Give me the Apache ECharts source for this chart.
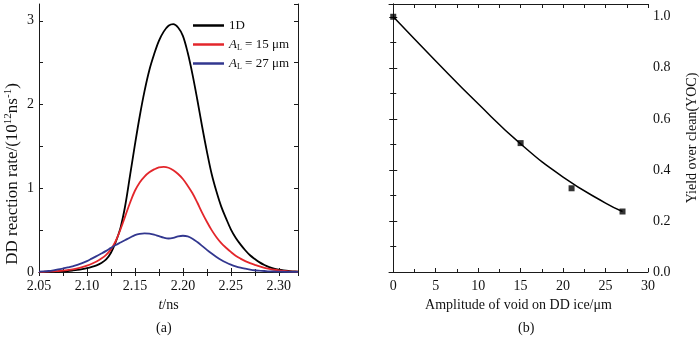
<!DOCTYPE html>
<html>
<head>
<meta charset="utf-8">
<script src="https://cdn.jsdelivr.net/npm/echarts@6/dist/echarts.min.js"></script>
<style>html,body{margin:0;padding:0;background:#fff}#c{width:700px;height:337px}</style>
</head>
<body>
<div id="c"></div>
<script>
// ---- Panel (a): DD reaction rate vs time ----
var tValues = [2.050,2.055,2.060,2.065,2.070,2.075,2.080,2.085,2.090,2.095,2.100,2.105,2.110,2.115,2.120,2.125,2.130,2.135,2.140,2.145,2.150,2.155,2.160,2.165,2.170,2.175,2.180,2.185,2.190,2.195,2.200,2.205,2.210,2.215,2.220,2.225,2.230,2.235,2.240,2.245,2.250,2.255,2.260,2.265,2.270,2.275,2.280,2.285,2.290,2.295,2.300,2.305,2.310,2.315,2.320];
var rate1D = [0.000,0.001,0.002,0.003,0.005,0.008,0.012,0.018,0.025,0.034,0.045,0.060,0.080,0.108,0.150,0.230,0.360,0.530,0.800,1.160,1.520,1.860,2.160,2.410,2.600,2.760,2.870,2.940,2.960,2.920,2.820,2.620,2.360,2.060,1.740,1.440,1.170,0.960,0.780,0.640,0.510,0.410,0.330,0.260,0.200,0.155,0.115,0.083,0.058,0.040,0.028,0.019,0.012,0.008,0.005];
var rateAL15 = [0.002,0.003,0.005,0.008,0.012,0.017,0.024,0.032,0.043,0.058,0.076,0.098,0.125,0.160,0.205,0.270,0.370,0.510,0.670,0.830,0.970,1.070,1.140,1.190,1.225,1.250,1.255,1.245,1.215,1.170,1.110,1.030,0.940,0.830,0.710,0.600,0.500,0.415,0.345,0.290,0.240,0.195,0.160,0.130,0.105,0.085,0.066,0.050,0.037,0.027,0.019,0.013,0.008,0.005,0.003];
var rateAL27 = [0.004,0.007,0.012,0.020,0.030,0.042,0.055,0.068,0.085,0.105,0.130,0.160,0.190,0.220,0.252,0.288,0.322,0.352,0.382,0.412,0.440,0.456,0.462,0.458,0.447,0.428,0.410,0.400,0.408,0.425,0.433,0.425,0.398,0.358,0.312,0.264,0.220,0.180,0.144,0.114,0.088,0.067,0.051,0.039,0.029,0.021,0.016,0.012,0.008,0.006,0.004,0.003,0.002,0.001,0.001];
var seriesNamesA = ['1D', 'AL15', 'AL27'];

// ---- Panel (b): YOC vs void amplitude ----
var amplitude = [0, 15, 21, 27];
var yoc = [1.0, 0.505, 0.328, 0.237];
var fitAmplitude = [0, 5, 10, 15, 20, 25, 27];
var fitYoc = [1.0, 0.827, 0.659, 0.502, 0.372, 0.270, 0.237];

// tick labels
var ampTicks = [0, 5, 10, 15, 20, 25, 30];
var ampMinorTicks = [2.5, 7.5, 12.5, 17.5, 22.5, 27.5];
var ampAllTicks = [0, 2.5, 5, 7.5, 10, 12.5, 15, 17.5, 20, 22.5, 25, 27.5, 30];

function zip(a, b) { return a.map(function (v, i) { return [v, b[i]]; }); }

var FONT = 'Liberation Serif';
var AX = '#1a1a1a';
var lbl = { fontFamily: FONT, fontSize: 14, color: '#111' };
function richSet(size) {
  return {
    i: { fontFamily: FONT, fontSize: size, fontStyle: 'italic', color: '#111' },
    s: { fontFamily: FONT, fontSize: Math.round(size * 0.62), color: '#111', verticalAlign: 'bottom', padding: [Math.round(size * 0.45), 0, 0, 0] },
    n: { fontFamily: FONT, fontSize: size, color: '#111' },
    sup: { fontFamily: FONT, fontSize: Math.round(size * 0.62), color: '#111', verticalAlign: 'top', padding: [0, 0, Math.round(size * 0.45), 0] }
  };
}

var chart = echarts.init(document.getElementById('c'), null, { renderer: 'canvas' });
var option = {
  animation: false,
  backgroundColor: '#fff',
  textStyle: { fontFamily: FONT },
  grid: [
    { left: 39, right: 402, top: 4, bottom: 65 },
    { left: 389, right: 52, top: 4, bottom: 65 }
  ],
  legend: {
    orient: 'vertical', left: 188, top: 13,
    itemWidth: 31, itemHeight: 2.5, itemGap: 4,
    icon: 'rect',
    data: seriesNamesA,
    textStyle: { fontFamily: FONT, fontSize: 13, color: '#111', lineHeight: 15, rich: richSet(13) },
    formatter: function (n) {
      if (n === 'AL15') return '{i|A}{s|L}{n| = 15 μm}';
      if (n === 'AL27') return '{i|A}{s|L}{n| = 27 μm}';
      return '{n|1D}';
    }
  },
  graphic: [
    { type: 'text', left: 156, top: 321, style: { text: '(a)', font: '14px "Liberation Serif"', fill: '#111' } },
    { type: 'text', left: 518, top: 321, style: { text: '(b)', font: '14px "Liberation Serif"', fill: '#111' } }
  ],
  xAxis: [
    { gridIndex: 0, type: 'value', position: 'bottom', min: 2.05, max: 2.32, interval: 0.05,
      axisLine: { lineStyle: { color: AX, width: 1 } },
      axisTick: { inside: true, length: 4, lineStyle: { color: AX } },
      minorTick: { show: true, splitNumber: 2, length: 3, lineStyle: { color: AX } },
      splitLine: { show: false },
      axisLabel: Object.assign({ margin: 7, showMaxLabel: false, formatter: function (v) { return v.toFixed(2); } }, lbl),
      name: '{i|t}{n|/ns}', nameLocation: 'middle', nameGap: 24,
      nameTextStyle: { rich: richSet(14) } },
    { gridIndex: 0, type: 'value', position: 'top', min: 2.05, max: 2.32, interval: 0.025,
      axisLine: { lineStyle: { color: AX, width: 1 } },
      axisTick: { inside: true, length: 4, lineStyle: { color: AX } },
      splitLine: { show: false }, axisLabel: { show: false } },
    { gridIndex: 1, type: 'value', position: 'bottom', min: -0.5, max: 30,
      axisLine: { lineStyle: { color: AX, width: 1 } },
      axisTick: { inside: true, length: 4, customValues: ampTicks, lineStyle: { color: AX } },
      splitLine: { show: false },
      axisLabel: Object.assign({ margin: 7, customValues: ampTicks }, lbl),
      name: 'Amplitude of void on DD ice/μm', nameLocation: 'middle', nameGap: 24,
      nameTextStyle: { fontFamily: FONT, fontSize: 14, color: '#111' } },
    { gridIndex: 1, type: 'value', position: 'bottom', min: -0.5, max: 30,
      axisLine: { show: false },
      axisTick: { inside: true, length: 3, customValues: ampMinorTicks, lineStyle: { color: AX } },
      splitLine: { show: false }, axisLabel: { show: false } },
    { gridIndex: 1, type: 'value', position: 'top', min: -0.5, max: 30,
      axisLine: { lineStyle: { color: AX, width: 1 } },
      axisTick: { inside: true, length: 4, customValues: ampAllTicks, lineStyle: { color: AX } },
      splitLine: { show: false }, axisLabel: { show: false } }
  ],
  yAxis: [
    { gridIndex: 0, type: 'value', position: 'left', min: 0, max: 3.2, interval: 0.5,
      axisLine: { show: true, lineStyle: { color: AX, width: 1 } },
      axisTick: { show: true, inside: true, length: 4, lineStyle: { color: AX } },
      splitLine: { show: false },
      axisLabel: Object.assign({ margin: 5, showMaxLabel: false,
        formatter: function (v) { return Math.abs(v - Math.round(v)) < 1e-6 ? String(Math.round(v)) : ''; } }, lbl),
      name: '{n|DD reaction rate/(10}{sup|12}{n|ns}{sup|-1}{n|)}', nameLocation: 'middle', nameGap: 17, nameRotate: 90,
      nameTextStyle: { rich: richSet(17), padding: [0, 72, 0, 0] } },
    { gridIndex: 0, type: 'value', position: 'right', min: 0, max: 3.2, interval: 0.5,
      axisLine: { show: true, lineStyle: { color: AX, width: 1 } },
      axisTick: { show: true, inside: true, length: 4, lineStyle: { color: AX } },
      splitLine: { show: false }, axisLabel: { show: false } },
    { gridIndex: 1, type: 'value', position: 'right', min: 0, max: 1.05, interval: 0.2,
      axisLine: { show: true, lineStyle: { color: AX, width: 1 } },
      axisTick: { show: true, inside: true, length: 4, lineStyle: { color: AX } },
      minorTick: { show: true, splitNumber: 2, length: 3, lineStyle: { color: AX } },
      splitLine: { show: false },
      axisLabel: Object.assign({ margin: 5, showMaxLabel: false, formatter: function (v) { return v.toFixed(1); } }, lbl),
      name: 'Yield over clean(YOC)', nameLocation: 'middle', nameGap: 37, nameRotate: 90,
      nameTextStyle: { fontFamily: FONT, fontSize: 14, color: '#111' } },
    { gridIndex: 1, type: 'value', position: 'left', min: 0, max: 1.05, interval: 0.2,
      axisLine: { show: true, lineStyle: { color: AX, width: 1 } },
      axisTick: { show: true, inside: true, length: 4, lineStyle: { color: AX } },
      minorTick: { show: true, splitNumber: 2, length: 3, lineStyle: { color: AX } },
      splitLine: { show: false }, axisLabel: { show: false } }
  ],
  series: [
    { name: '1D', type: 'line', xAxisIndex: 0, yAxisIndex: 0, data: zip(tValues, rate1D),
      smooth: 0.35, showSymbol: false, lineStyle: { color: '#000', width: 1.8 }, itemStyle: { color: '#000' }, z: 3 },
    { name: 'AL15', type: 'line', xAxisIndex: 0, yAxisIndex: 0, data: zip(tValues, rateAL15),
      smooth: 0.35, showSymbol: false, lineStyle: { color: '#e3262b', width: 1.8 }, itemStyle: { color: '#e3262b' }, z: 4 },
    { name: 'AL27', type: 'line', xAxisIndex: 0, yAxisIndex: 0, data: zip(tValues, rateAL27),
      smooth: 0.35, showSymbol: false, lineStyle: { color: '#32378f', width: 1.8 }, itemStyle: { color: '#32378f' }, z: 5 },
    { name: 'fit', type: 'line', xAxisIndex: 2, yAxisIndex: 2, data: zip(fitAmplitude, fitYoc),
      smooth: 0.5, showSymbol: false, lineStyle: { color: '#000', width: 1.5 }, z: 3 },
    { name: 'YOC', type: 'scatter', xAxisIndex: 2, yAxisIndex: 2, data: zip(amplitude, yoc),
      symbol: 'rect', symbolSize: 6, itemStyle: { color: '#000' }, z: 4 }
  ]
};
chart.setOption(option);
</script>
</body>
</html>
